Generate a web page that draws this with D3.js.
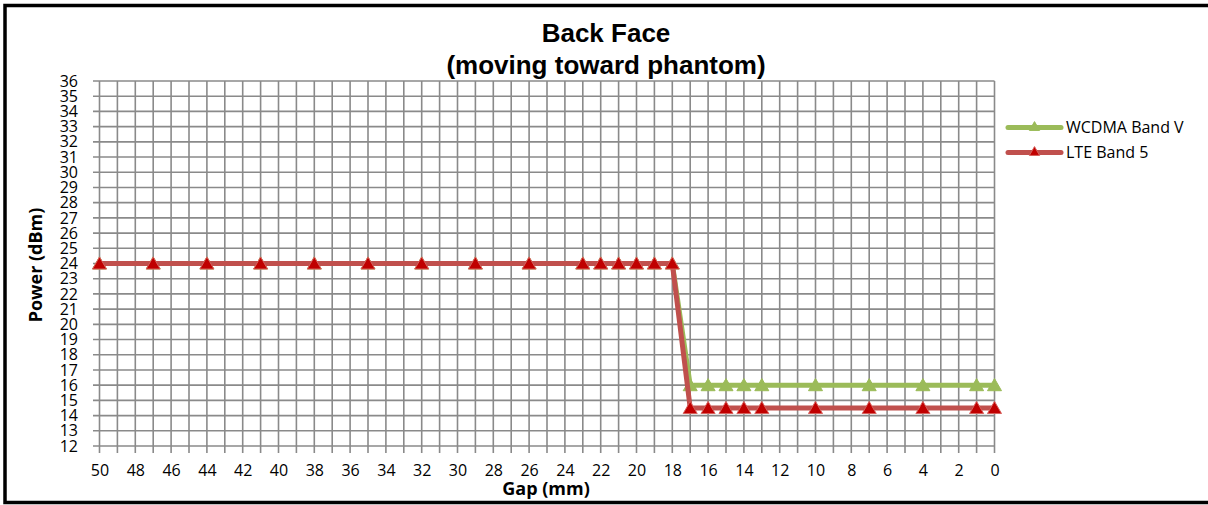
<!DOCTYPE html>
<html><head><meta charset="utf-8">
<script src="https://cdn.jsdelivr.net/npm/d3@7"></script>
<style>body{margin:0;background:#fff}svg{display:block}</style>
</head><body>
<svg id="c" width="1208" height="505"></svg>
<script>
const gaps = [50,47,44,41,38,35,32,29,26,23,22,21,20,19,18,17,16,15,14,13,10,7,4,1,0];
const wcdma = [24,24,24,24,24,24,24,24,24,24,24,24,24,24,24,16,16,16,16,16,16,16,16,16,16];
const lte   = [24,24,24,24,24,24,24,24,24,24,24,24,24,24,24,14.5,14.5,14.5,14.5,14.5,14.5,14.5,14.5,14.5,14.5];
const xTicks = d3.range(50,-1,-2);
const yTicks = d3.range(12,37,1);
const seriesNames = ["WCDMA Band V","LTE Band 5"];
const titleLines = ["Back Face","(moving toward phantom)"];

const svg = d3.select("#c");
const tickFont = "'Open Sans', Lato, sans-serif";
svg.append("rect").attr("x",5).attr("y",5.5).attr("width",1210).attr("height",497)
  .attr("fill","#fff").attr("stroke","#000").attr("stroke-width",3.5);

const x = d3.scaleLinear().domain([50,0]).range([99.5,994.5]);
const y = d3.scaleLinear().domain([12,36]).range([446,81]);

const grid = svg.append("g").attr("stroke","#8a8a8a").attr("stroke-width",1.6);
d3.range(0,51).forEach(v=>{
  grid.append("line").attr("x1",x(v)).attr("x2",x(v)).attr("y1",y(36)).attr("y2",453);
});
yTicks.forEach(v=>{
  grid.append("line").attr("x1",93).attr("x2",x(0)).attr("y1",y(v)).attr("y2",y(v));
});

// y tick labels
const yAxis = d3.axisLeft(y).tickValues(yTicks).tickSize(0).tickPadding(0);
const ya = svg.append("g").attr("transform","translate(78,0)").call(yAxis);
ya.select(".domain").remove();
ya.selectAll("text").attr("font-family",tickFont).attr("font-size",16).attr("fill","#000");

const xAxis = d3.axisBottom(x).tickValues(xTicks).tickSize(0).tickPadding(0);
const xa = svg.append("g").attr("transform","translate(0,465)").call(xAxis);
xa.select(".domain").remove();
xa.selectAll("text").attr("font-family",tickFont).attr("font-size",16).attr("fill","#000");

// titles
svg.append("text").attr("x",606).attr("y",42).attr("text-anchor","middle")
  .attr("font-family","'Liberation Sans', Arial, sans-serif").attr("font-weight","bold")
  .attr("font-size",26).text(titleLines[0]);
svg.append("text").attr("x",606).attr("y",74).attr("text-anchor","middle")
  .attr("font-family","'Liberation Sans', Arial, sans-serif").attr("font-weight","bold")
  .attr("font-size",26).text(titleLines[1]);
svg.append("text").attr("x",546).attr("y",495).attr("text-anchor","middle")
  .attr("font-family",tickFont).attr("font-weight","bold").attr("font-size",18).text("Gap (mm)");
svg.append("text").attr("transform","translate(42,265) rotate(-90)").attr("text-anchor","middle")
  .attr("font-family",tickFont).attr("font-weight","bold").attr("font-size",18).text("Power (dBm)");

const colors = ["#9BBB59","#C0504D"];
const markFill = ["#9BBB59","#C00000"];
const markStroke = ["#9BBB59","#D8605C"];
const data = [wcdma, lte];
const line = d3.line().x(d=>x(d[0])).y(d=>y(d[1]));
const tri = d3.symbol().type(d3.symbolTriangle).size(85);

data.forEach((vals,i)=>{
  const pts = gaps.map((g,j)=>[g,vals[j]]);
  const g = svg.append("g");
  g.append("path").attr("d",line(pts)).attr("fill","none").attr("stroke",colors[i])
    .attr("stroke-width",5).attr("stroke-linejoin","round");
  g.selectAll("path.m").data(pts).join("path").attr("class","m")
    .attr("d",tri).attr("transform",d=>`translate(${x(d[0])},${y(d[1])+1.5})`)
    .attr("fill",markFill[i]).attr("stroke",markStroke[i]).attr("stroke-width",1);
});

// legend
seriesNames.forEach((n,i)=>{
  const ly = 127.5 + i*25;
  const g = svg.append("g");
  g.append("line").attr("x1",1008).attr("x2",1061).attr("y1",ly).attr("y2",ly)
    .attr("stroke",colors[i]).attr("stroke-width",5).attr("stroke-linecap","round");
  g.append("path").attr("d",d3.symbol().type(d3.symbolTriangle).size(45)())
    .attr("transform",`translate(1034.5,${ly})`).attr("fill",markFill[i]).attr("stroke",markStroke[i]).attr("stroke-width",1);
  g.append("text").attr("x",1066).attr("y",ly+5.5).attr("font-family",tickFont)
    .attr("font-size",16).text(n);
});
</script>
</body></html>
